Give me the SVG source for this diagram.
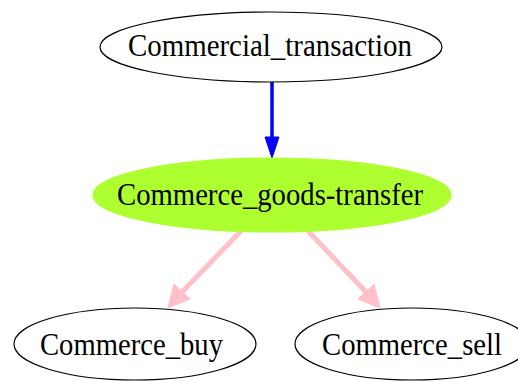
<svg xmlns="http://www.w3.org/2000/svg" width="518" height="381" viewBox="0 0 518 381">
  <style>
    .node ellipse { stroke: #000; stroke-width: 1.2; fill: #fff; }
    .node text { font-family: "Liberation Serif", "Times New Roman", serif; font-size: 32px; text-anchor: middle; fill: #000; }
    .focus ellipse { fill: #adff2f; stroke: #adff2f; }
    .edge-blue { stroke: #0000ff; stroke-width: 3.5; fill: none; }
    .edge-pink { stroke: #ffc0cb; stroke-width: 5; fill: none; }
  </style>
  <rect width="518" height="381" fill="#fff"/>
  <g id="edges">
    <path class="edge-blue" d="M272,82 L272,140"/>
    <polygon points="265,137 279,137 272,158" fill="#0000ff" stroke="#0000ff" stroke-width="1"/>
    <path class="edge-pink" d="M241,231 L182,292"/>
    <polygon points="174,284 190,299 168,308" fill="#ffc0cb" stroke="#ffc0cb" stroke-width="1"/>
    <path class="edge-pink" d="M308,231 L366,292"/>
    <polygon points="358,299 374,284 380,308" fill="#ffc0cb" stroke="#ffc0cb" stroke-width="1"/>
  </g>
  <g id="Commercial_transaction" class="node">
    <ellipse cx="271" cy="47" rx="171" ry="35"/>
    <text x="270" y="56" textLength="284" lengthAdjust="spacingAndGlyphs">Commercial_transaction</text>
  </g>
  <g id="Commerce_goods-transfer" class="node focus">
    <ellipse cx="272" cy="195" rx="179" ry="37"/>
    <text x="270" y="205" textLength="306" lengthAdjust="spacingAndGlyphs">Commerce_goods-transfer</text>
  </g>
  <g id="Commerce_buy" class="node">
    <ellipse cx="135" cy="344" rx="121" ry="36"/>
    <text x="131.5" y="355" textLength="183" lengthAdjust="spacingAndGlyphs">Commerce_buy</text>
  </g>
  <g id="Commerce_sell" class="node">
    <ellipse cx="412" cy="344" rx="117" ry="36"/>
    <text x="412" y="355" textLength="180" lengthAdjust="spacingAndGlyphs">Commerce_sell</text>
  </g>
</svg>
